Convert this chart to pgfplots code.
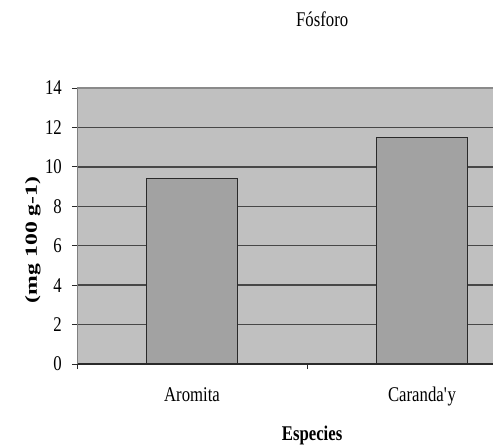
\documentclass[border=0pt]{standalone}
\usepackage{pgfplots}
\pgfplotsset{compat=1.18}
\usepackage{fontspec}
\setmainfont{Liberation Serif}[FakeStretch=0.8]
\newfontfamily\ylabfont{Liberation Serif}[FakeStretch=1.4]
\definecolor{plotbg}{HTML}{C0C0C0}
\definecolor{barc}{HTML}{A2A2A2}
\definecolor{bardraw}{HTML}{2A2A2A}
\definecolor{gridc}{HTML}{474747}
\definecolor{topc}{HTML}{8A8A8A}
\definecolor{darkline}{HTML}{2A2A2A}
\begin{document}
\fontsize{21}{24}\selectfont
\begin{tikzpicture}
\useasboundingbox (0,0) rectangle (493bp,445bp);
\begin{axis}[
  at={(77bp,81bp)}, anchor=south west,
  scale only axis, width=460bp, height=276bp,
  xmin=-0.5, xmax=1.5, ymin=0, ymax=14,
  axis x line*=bottom, axis y line*=left,
  axis line style={-},
  x axis line style={draw=darkline, line width=1.3bp},
  y axis line style={draw=gray, line width=1bp},
  axis background/.style={fill=plotbg},
  ytick={0,2,...,12},
  extra y ticks={14},
  extra y tick style={grid style={draw=topc, line width=1.6bp}},
  ymajorgrids,
  grid style={draw=gridc, line width=1.4bp},
  tick align=outside,
  major tick length=5bp,
  ytick style={draw=darkline, line width=0.8bp},
  xtick={0,1},
  xticklabels={Aromita,Caranda\textquotesingle y},
  xtick style={draw=none},
  extra x ticks={-0.5,0.5,1.5},
  extra x tick labels={},
  extra x tick style={grid=none, xtick style={draw=darkline, line width=0.8bp}},
  xticklabel style={yshift=-11bp},
  yticklabel style={xshift=-3bp},
  /pgf/number format/assume math mode=true,
  title={Fósforo},
  title style={at={(axis description cs:0.533,1.228)}, anchor=center},
  xlabel={\bfseries Especies},
  xlabel style={at={(axis description cs:0.511,-0.26)}, anchor=center},
  ylabel={\fontsize{17}{20}\ylabfont\bfseries (mg 100 g-1)},
  ylabel style={at={(axis description cs:-0.0957,0.45)}, anchor=center},
]
\addplot[ybar, bar width=91bp, fill=barc, draw=bardraw, line width=1.3bp]
  coordinates {(0,9.4) (1,11.5)};
\end{axis}
\end{tikzpicture}
\end{document}
